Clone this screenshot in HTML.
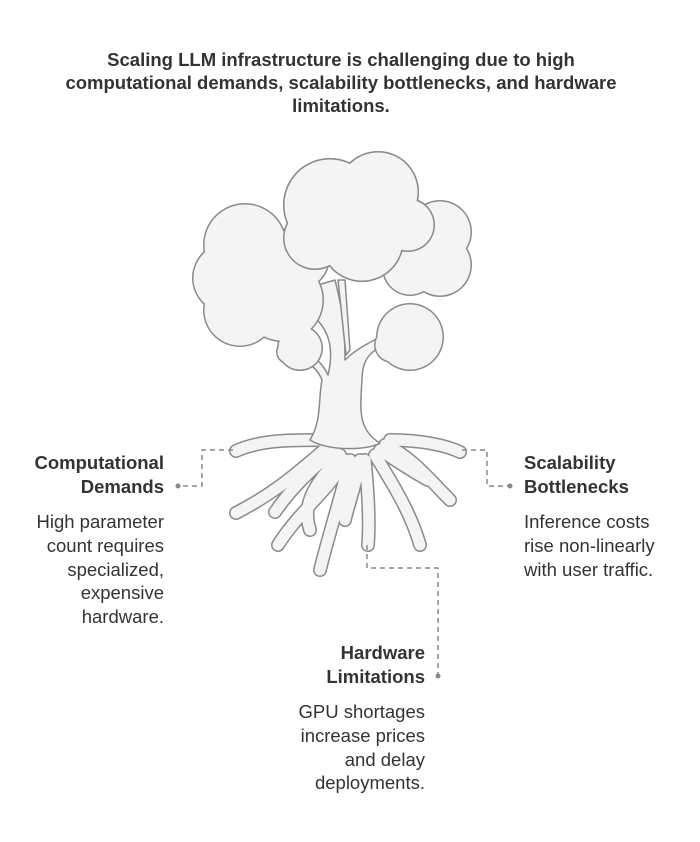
<!DOCTYPE html>
<html><head><meta charset="utf-8"><style>
html,body{margin:0;padding:0;background:#fff;}
svg{display:block;}
text{font-family:"Liberation Sans",sans-serif;fill:#333;font-size:18.5px;}
.b{font-weight:bold;}
</style></head><body>
<svg width="700" height="842" viewBox="0 0 700 842" xmlns="http://www.w3.org/2000/svg">
<g text-anchor="middle" class="b">
<text x="341" y="66" class="b">Scaling LLM infrastructure is challenging due to high</text>
<text x="341" y="89" class="b">computational demands, scalability bottlenecks, and hardware</text>
<text x="341" y="112" class="b">limitations.</text>
</g>

<!-- roots -->
<g fill="none" stroke-linecap="round" stroke-linejoin="round">
<g stroke="#8a8a8a" stroke-width="14">
<path d="M320 440 C290 440 260 440 236 451 M330 445 C300 470 280 490 236 513 M335 450 C310 470 290 490 275 512 M340 455 C320 480 300 500 310 530 M345 460 C330 490 300 510 278 545 M350 460 C340 500 330 530 320 570 M360 460 C355 490 348 505 345 520 M365 460 C368 490 370 520 368 545 M375 455 C390 480 410 510 420 545 M380 450 C395 460 410 470 428 480 M385 445 C410 455 430 480 450 500 M390 440 C420 440 445 445 460 452"/>
</g>
<g stroke="#f4f4f4" stroke-width="11">
<path d="M320 440 C290 440 260 440 236 451 M330 445 C300 470 280 490 236 513 M335 450 C310 470 290 490 275 512 M340 455 C320 480 300 500 310 530 M345 460 C330 490 300 510 278 545 M350 460 C340 500 330 530 320 570 M360 460 C355 490 348 505 345 520 M365 460 C368 490 370 520 368 545 M375 455 C390 480 410 510 420 545 M380 450 C395 460 410 470 428 480 M385 445 C410 455 430 480 450 500 M390 440 C420 440 445 445 460 452"/>
</g>
</g>

<!-- branches + trunk -->
<g stroke="#8a8a8a" stroke-width="1.5" fill="#f4f4f4" stroke-linejoin="round">
<path d="M310 440 C322 420 318 400 322 380 C318 370 312 365 305 362 L312 355 C320 362 325 368 328 375 C334 350 330 330 312 315 C300 305 292 300 285 296 L292 292 C305 298 315 305 322 310 L318 285 L335 280 C340 300 345 320 345 360 C355 350 365 345 378 338 L382 346 C370 352 362 360 362 380 C360 410 358 430 380 443 C370 450 330 452 310 440 Z"/>
<path d="M338 280 L345 280 L350 350 L346 355 Z"/>
</g>

<!-- canopy -->
<g fill="#8a8a8a">
<circle cx="245" cy="245" r="42"/><circle cx="228" cy="278" r="36"/><circle cx="240" cy="310" r="37"/><circle cx="282" cy="300" r="42"/><circle cx="298" cy="258" r="32"/>
<circle cx="440" cy="232" r="32"/><circle cx="440" cy="265" r="32"/><circle cx="410" cy="268" r="28"/>
<circle cx="330" cy="205" r="47"/><circle cx="378" cy="192" r="41"/><circle cx="408" cy="225" r="27"/><circle cx="362" cy="240" r="42"/><circle cx="315" cy="238" r="32"/>
<circle cx="300" cy="348" r="23"/><circle cx="288" cy="352" r="12"/>
<circle cx="410" cy="337" r="34"/><circle cx="392" cy="345" r="18"/>
</g>
<g fill="#f4f4f4">
<circle cx="245" cy="245" r="40.5"/><circle cx="228" cy="278" r="34.5"/><circle cx="240" cy="310" r="35.5"/><circle cx="282" cy="300" r="40.5"/><circle cx="298" cy="258" r="30.5"/>
<circle cx="440" cy="232" r="30.5"/><circle cx="440" cy="265" r="30.5"/><circle cx="410" cy="268" r="26.5"/>
</g>
<g fill="#8a8a8a">
<circle cx="330" cy="205" r="47"/><circle cx="378" cy="192" r="41"/><circle cx="408" cy="225" r="27"/><circle cx="362" cy="240" r="42"/><circle cx="315" cy="238" r="32"/>
</g>
<g fill="#f4f4f4">
<circle cx="330" cy="205" r="45.5"/><circle cx="378" cy="192" r="39.5"/><circle cx="408" cy="225" r="25.5"/><circle cx="362" cy="240" r="40.5"/><circle cx="315" cy="238" r="30.5"/>
<circle cx="300" cy="348" r="21.5"/><circle cx="288" cy="352" r="10.5"/>
<circle cx="410" cy="337" r="32.5"/><circle cx="392" cy="345" r="16.5"/>
</g>

<!-- connectors -->
<g fill="none" stroke="#888" stroke-width="1.5" stroke-dasharray="5,4">
<path d="M233 450 H202 V486 H180"/>
<path d="M462 450 H487 V486 H508"/>
<path d="M367 545 V568 H438 V676"/>
</g>
<g fill="#888"><circle cx="178" cy="486" r="2.5"/><circle cx="510" cy="486" r="2.5"/><circle cx="438" cy="676" r="2.5"/></g>

<!-- labels -->
<g text-anchor="end">
<text x="164" y="469" class="b">Computational</text>
<text x="164" y="493" class="b">Demands</text>
<text x="164" y="528">High parameter</text>
<text x="164" y="552">count requires</text>
<text x="164" y="576">specialized,</text>
<text x="164" y="599">expensive</text>
<text x="164" y="623">hardware.</text>
<text x="425" y="659" class="b">Hardware</text>
<text x="425" y="683" class="b">Limitations</text>
<text x="425" y="718">GPU shortages</text>
<text x="425" y="742">increase prices</text>
<text x="425" y="766">and delay</text>
<text x="425" y="789">deployments.</text>
</g>
<g>
<text x="524" y="469" class="b">Scalability</text>
<text x="524" y="493" class="b">Bottlenecks</text>
<text x="524" y="528">Inference costs</text>
<text x="524" y="552">rise non-linearly</text>
<text x="524" y="576">with user traffic.</text>
</g>
</svg>
</body></html>
